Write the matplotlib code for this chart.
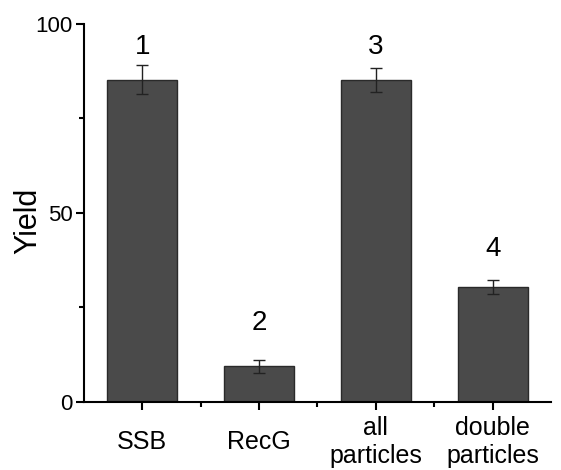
import matplotlib
matplotlib.use('Agg')
import matplotlib.pyplot as plt
import numpy as np

plt.rcParams['font.family'] = ['Liberation Sans', 'DejaVu Sans']

# data
categories = ['SSB', 'RecG', 'all\nparticles', 'double\nparticles']
yields = [85.3, 9.5, 85.2, 30.4]
errors = [3.8, 1.7, 3.2, 1.8]
bar_labels = ['1', '2', '3', '4']
label_y = [94.0, 20.8, 94.0, 40.6]

fig = plt.figure(figsize=(5.61, 4.70), dpi=100)
ax = fig.add_axes([0.1497, 0.1447, 0.8325, 0.8043])

x = np.arange(1, len(categories) + 1)
ax.bar(x, yields, width=0.6, color='#4a4a4a', edgecolor='#2a2a2a', linewidth=1.0,
       yerr=errors, error_kw=dict(ecolor='#222222', elinewidth=1.0, capsize=4, capthick=1.0))

for xi, t, ly in zip(x, bar_labels, label_y):
    ax.text(xi, ly, t, ha='center', va='center', fontsize=20)

ax.set_xlim(0.5, 4.5)
ax.set_ylim(0, 100)
ax.set_yticks([0, 50, 100])
ax.set_yticks([25, 75], minor=True)
ax.set_xticks(x)
ax.set_xticks([1.5, 2.5, 3.5], minor=True)
ax.set_xticklabels(categories, fontsize=18, linespacing=1.2)
for lab in ax.get_xticklabels():
    lab.set_va('center')
ax.tick_params(axis='y', labelsize=16, width=1.5, length=6, direction='out', pad=2)
ax.tick_params(axis='x', width=1.5, length=6, direction='out', pad=23)
ax.tick_params(which='minor', width=1.5, length=3.5, direction='out')

for side in ['top', 'right']:
    ax.spines[side].set_visible(False)
for side in ['left', 'bottom']:
    ax.spines[side].set_linewidth(1.5)

ax.set_ylabel('Yield', fontsize=22)
ax.yaxis.set_label_coords(-0.088, 0.48)

fig.savefig('out.png', dpi=100)
